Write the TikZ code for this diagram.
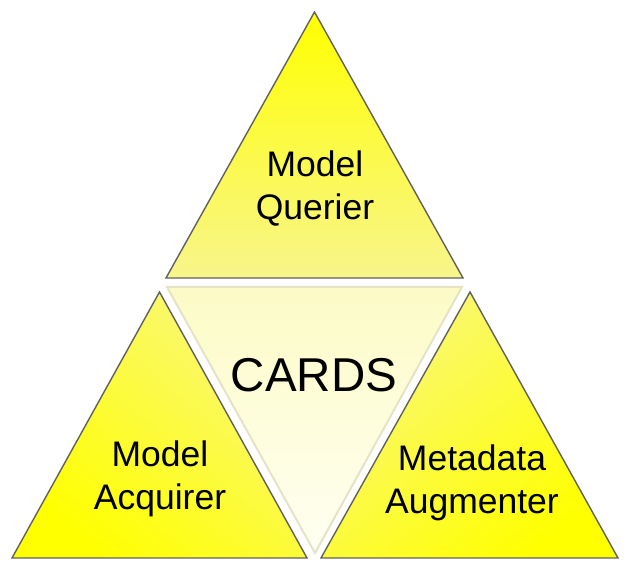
\documentclass[tikz,border=0pt]{standalone}
\usepackage{fontspec}
\setmainfont{Liberation Sans}
\begin{document}
\begin{tikzpicture}[x=1pt,y=1pt,
  tri/.style={draw=black!62, line width=1.4pt, line join=miter},
  mid/.style={draw=cardsedge, line width=2pt, line join=miter},
  lbl/.style={anchor=base, inner sep=0pt, font=\fontsize{35.5}{40}\selectfont},
  big/.style={anchor=base, inner sep=0pt, font=\fontsize{47.5}{52}\selectfont}]
\definecolor{yel}{HTML}{FFFF00}
\definecolor{lite}{HTML}{F8F58C}
\definecolor{lite2}{HTML}{F9F77A}
\definecolor{cardsedge}{HTML}{E4E3C6}
\definecolor{cardstop}{HTML}{FCFBC6}
\definecolor{cardsbot}{HTML}{FFFFF2}
\useasboundingbox (0,0) rectangle (630,570);
% center triangle
\shade[mid, top color=cardstop, bottom color=cardsbot]
  (167,283) coordinate (c1) -- (462,283) coordinate (c2) -- (315,17) coordinate (c3) -- cycle;
% top triangle
\shade[tri, top color=yel, bottom color=lite]
  (314.5,558) coordinate (t1) -- (463,292) coordinate (t2) -- (166,292) coordinate (t3) -- cycle;
% left triangle
\shade[tri, shading=axis, top color=lite2, bottom color=yel, shading angle=-40]
  (159.5,278) coordinate (l1) -- (307,12) coordinate (l2) -- (12,12) coordinate (l3) -- cycle;
% right triangle
\shade[tri, shading=axis, top color=lite2, bottom color=yel, shading angle=40]
  (470,278) coordinate (r1) -- (618,12) coordinate (r2) -- (321,12) coordinate (r3) -- cycle;
% labels
\node[lbl] (q1) at (315,393) {Model};
\node[lbl] (q2) at (315,350) {Querier};
\node[big] (cards) at (314,178) {CARDS};
\node[lbl] (a1) at (160,103) {Model};
\node[lbl] (a2) at (160,60) {Acquirer};
\node[lbl] (m1) at (472,99) {Metadata};
\node[lbl] (m2) at (472,56) {Augmenter};
\end{tikzpicture}
\end{document}
